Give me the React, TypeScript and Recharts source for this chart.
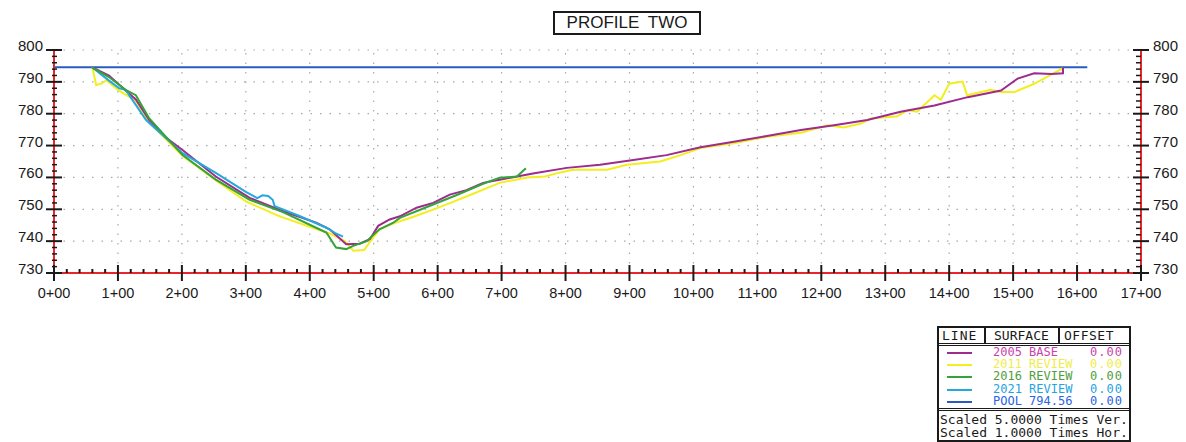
import { Legend, Line, LineChart, ReferenceLine, XAxis, YAxis } from "recharts";

// stations in feet, elevations in feet
const BASE_STA = [60, 86, 112, 128, 149, 175, 201, 253, 306, 358, 410, 431, 457, 478, 494, 507, 525, 541, 567, 593, 619, 645, 671, 697, 749, 802, 854, 906, 958, 1011, 1063, 1115, 1168, 1220, 1272, 1324, 1377, 1429, 1481, 1507, 1533, 1560, 1578, 1578];
const BASE_ELEV = [794.5, 792, 787.3, 784.5, 778, 772.5, 768.6, 760.3, 753.6, 749.4, 745.8, 743.7, 739, 739.2, 740.6, 744.8, 746.8, 747.8, 750.5, 752, 754.6, 756, 758.3, 759.3, 761.2, 763, 764, 765.5, 767, 769.5, 771.2, 773, 774.9, 776.4, 778, 780.6, 782.6, 785.2, 787.3, 791, 792.7, 792.5, 792.7, 794.5];

const Y2011_STA = [60, 66, 75, 82, 100, 128, 150, 200, 250, 300, 350, 400, 430, 455, 468, 485, 495, 509, 530, 560, 593, 620, 645, 697, 740, 768, 790, 812, 865, 896, 948, 980, 1011, 1063, 1115, 1168, 1210, 1235, 1262, 1277, 1319, 1335, 1350, 1377, 1387, 1400, 1421, 1428, 1465, 1481, 1502, 1533, 1578];
const Y2011_ELEV = [794.5, 789, 789.5, 790.5, 787.5, 784, 777, 767, 759.5, 752.5, 748, 744.5, 742.5, 740, 737, 737.2, 740, 743.7, 745.5, 747.5, 749.9, 752, 754, 758.3, 760, 760.3, 761.5, 762.4, 762.4, 764, 765, 767, 769.2, 770.7, 772.8, 774, 776.4, 775.7, 776.9, 778.5, 779.2, 781.1, 780.6, 785.8, 784.4, 789.4, 790.1, 785.8, 787.5, 786.8, 786.8, 789.4, 794.3];

const Y2016_STA = [60, 86, 112, 128, 149, 201, 253, 306, 358, 410, 426, 441, 457, 468, 489, 509, 530, 541, 593, 630, 671, 697, 724, 738];
const Y2016_ELEV = [794.5, 791.5, 787.5, 785.8, 778.5, 767, 759.3, 753, 749.1, 744.2, 742.7, 738, 737.5, 738.5, 740, 743.7, 745.7, 747.3, 751.5, 754.5, 758, 759.9, 760.3, 762.9];

const Y2021_STA = [60, 86, 102, 112, 144, 201, 253, 300, 318, 326, 335, 342, 345, 384, 426, 440, 452];
const Y2021_ELEV = [794.5, 790.4, 788, 787.5, 778, 767.6, 761.4, 755.5, 753.5, 754.4, 754.2, 753, 751, 747.9, 744.2, 742.5, 741.4];

const POOL_STA = [0, 1616];
const POOL_ELEV = [794.56, 794.56];

const STATION_TICKS = [0, 100, 200, 300, 400, 500, 600, 700, 800, 900, 1000, 1100, 1200, 1300, 1400, 1500, 1600, 1700];
const ELEV_TICKS = [730, 740, 750, 760, 770, 780, 790, 800];

const zip = (sta: number[], elev: number[]) => sta.map((s, i) => ({ sta: s, elev: elev[i] }));

const STA_MINOR: number[] = [];
for (let s = 0; s <= 1700; s += 20) STA_MINOR.push(s);
const ELEV_MINOR: number[] = [];
for (let e = 730; e <= 800; e += 2) ELEV_MINOR.push(e);

const RED = "#e8262a";
const INK = "#1a1a1a";
const GRID = "#a8a8a8";
const FONT = "'Liberation Sans', Arial, sans-serif";
const MONO = "'DejaVu Sans Mono', monospace";

const SERIES = [
  { key: "2011", data: zip(Y2011_STA, Y2011_ELEV), color: "#f3ee1e" },
  { key: "2005", data: zip(BASE_STA, BASE_ELEV), color: "#9c2c8e" },
  { key: "2021", data: zip(Y2021_STA, Y2021_ELEV), color: "#25a8dc" },
  { key: "2016", data: zip(Y2016_STA, Y2016_ELEV), color: "#36a23a" },
];

const LEGEND_ROWS = [
  { surface: "2005 BASE", offset: "0.00", line: "#9c2c8e", text: "#c944aa" },
  { surface: "2011 REVIEW", offset: "0.00", line: "#f3ee1e", text: "#efec4a" },
  { surface: "2016 REVIEW", offset: "0.00", line: "#36a23a", text: "#4f9e3c" },
  { surface: "2021 REVIEW", offset: "0.00", line: "#25a8dc", text: "#1fa3e2" },
  { surface: "POOL 794.56", offset: "0.00", line: "#2a5cc0", text: "#2a64e0" },
];

const fmtStation = (v: number) => `${Math.round(v / 100)}+00`;

function StationTick({ x, y, payload }: any) {
  const v = payload.value;
  if (v % 100 !== 0) {
    return <line x1={x} x2={x} y1={y - 4} y2={y} stroke={INK} strokeWidth={2} />;
  }
  return (
    <g>
      <line x1={x} x2={x} y1={y - 8} y2={y + 8} stroke={INK} strokeWidth={2} />
      <text x={x} y={y + 25} textAnchor="middle" fontSize={14.5} fontFamily={FONT} fill={INK}>
        {fmtStation(v)}
      </text>
    </g>
  );
}

function LeftTick({ x, y, payload }: any) {
  const v = payload.value;
  if (v % 10 !== 0) {
    return <line x1={x - 2} x2={x + 3} y1={y} y2={y} stroke={INK} strokeWidth={1.5} />;
  }
  return (
    <g>
      <line x1={x - 8} x2={x + 8} y1={y} y2={y} stroke={INK} strokeWidth={2} />
      <text x={x - 11} y={y + 1} textAnchor="end" fontSize={15} fontFamily={FONT} fill={INK}>
        {v}
      </text>
    </g>
  );
}

function RightTick({ x, y, payload }: any) {
  const v = payload.value;
  if (v % 10 !== 0) {
    return <line x1={x - 5} x2={x} y1={y} y2={y} stroke={INK} strokeWidth={1.5} />;
  }
  return (
    <g>
      <line x1={x - 8} x2={x + 8} y1={y} y2={y} stroke={INK} strokeWidth={2} />
      <text x={x + 12} y={y + 1} textAnchor="start" fontSize={15} fontFamily={FONT} fill={INK}>
        {v}
      </text>
    </g>
  );
}

function ProfileLegend() {
  const rowTop = 19;
  const rowH = 12.2;
  return (
    <div
      style={{
        position: "relative",
        width: 190,
        height: 112,
        border: `2px solid ${INK}`,
        background: "#fff",
        fontFamily: MONO,
        color: INK,
      }}
    >
      <div style={{ position: "absolute", left: 0, top: 0, right: 0, height: 15, borderBottom: `3px double ${INK}` }} />
      <div style={{ position: "absolute", left: 45, top: 0, height: 16, borderLeft: `2px solid ${INK}` }} />
      <div style={{ position: "absolute", left: 119, top: 0, height: 16, borderLeft: `2px solid ${INK}` }} />
      <div style={{ position: "absolute", left: 3, top: 0, fontSize: 13, lineHeight: "16px", letterSpacing: 1 }}>LINE</div>
      <div style={{ position: "absolute", left: 55, top: 0, fontSize: 13, lineHeight: "16px" }}>SURFACE</div>
      <div style={{ position: "absolute", left: 125, top: 0, fontSize: 13, lineHeight: "16px", letterSpacing: 0.5 }}>OFFSET</div>
      {LEGEND_ROWS.map((r, i) => (
        <div key={r.surface}>
          <div
            style={{
              position: "absolute",
              left: 8,
              width: 25,
              top: rowTop + i * rowH + 5,
              borderTop: `2px solid ${r.line}`,
            }}
          />
          <div
            style={{
              position: "absolute",
              left: 54,
              top: rowTop + i * rowH,
              fontSize: 12,
              lineHeight: "11px",
              height: 11,
              color: r.text,
              whiteSpace: "pre",
            }}
          >
            {r.surface}
          </div>
          <div
            style={{
              position: "absolute",
              right: 6,
              top: rowTop + i * rowH,
              fontSize: 12,
              lineHeight: "11px",
              height: 11,
              color: r.text,
              letterSpacing: 1,
            }}
          >
            {r.offset}
          </div>
        </div>
      ))}
      <div style={{ position: "absolute", left: 0, right: 0, top: 80, borderTop: `3px double ${INK}` }} />
      <div style={{ position: "absolute", left: 1, top: 85, fontSize: 13, lineHeight: "13px", whiteSpace: "pre" }}>
        {"Scaled 5.0000 Times Ver.\nScaled 1.0000 Times Hor."}
      </div>
    </div>
  );
}

export default function App() {
  return (
    <div style={{ position: "absolute", left: 0, top: 0, width: 1186, height: 442, background: "#fff", overflow: "hidden" }}>
      <div
        style={{
          position: "absolute",
          left: 553,
          top: 11,
          width: 144,
          height: 20,
          border: `2px solid ${INK}`,
          fontFamily: FONT,
          fontSize: 17,
          lineHeight: "20px",
          textAlign: "center",
          color: INK,
          wordSpacing: 4,
        }}
      >
        PROFILE TWO
      </div>
      <LineChart width={1186} height={442} margin={{ top: 50, right: 0, bottom: 139, left: 0 }}>
        <XAxis
          dataKey="sta"
          type="number"
          domain={[0, 1700]}
          ticks={STA_MINOR}
          interval={0}
          height={30}
          tickSize={0}
          tickMargin={0}
          tick={<StationTick />}
          axisLine={{ stroke: RED, strokeWidth: 2 }}
          allowDuplicatedCategory={false}
        />
        <YAxis
          yAxisId="l"
          type="number"
          domain={[730, 800]}
          ticks={ELEV_MINOR}
          interval={0}
          width={54}
          tickSize={0}
          tickMargin={0}
          tick={<LeftTick />}
          axisLine={{ stroke: RED, strokeWidth: 2 }}
        />
        <YAxis
          yAxisId="r"
          orientation="right"
          type="number"
          domain={[730, 800]}
          ticks={ELEV_MINOR}
          interval={0}
          width={45}
          tickSize={0}
          tickMargin={0}
          tick={<RightTick />}
          axisLine={{ stroke: RED, strokeWidth: 2 }}
        />
        {STATION_TICKS.slice(1, -1).map((s) => (
          <ReferenceLine key={`v${s}`} yAxisId="l" x={s} stroke={GRID} strokeWidth={1.2} strokeDasharray="1.5 8" />
        ))}
        {ELEV_TICKS.slice(1).map((e) => (
          <ReferenceLine key={`h${e}`} yAxisId="l" y={e} stroke={GRID} strokeWidth={1.2} strokeDasharray="1.5 8" />
        ))}
        <Line
          yAxisId="r"
          data={zip(POOL_STA, POOL_ELEV)}
          dataKey="elev"
          type="linear"
          stroke="#2a5cc0"
          strokeWidth={2}
          dot={false}
          isAnimationActive={false}
        />
        {SERIES.map((s) => (
          <Line
            key={s.key}
            yAxisId="l"
            data={s.data}
            dataKey="elev"
            type="linear"
            stroke={s.color}
            strokeWidth={2}
            dot={false}
            isAnimationActive={false}
          />
        ))}
        <Legend
          layout="horizontal"
          verticalAlign="middle"
          content={() => <ProfileLegend />}
          wrapperStyle={{ left: 937, top: 326, width: 194, height: 116 }}
        />
      </LineChart>
    </div>
  );
}
